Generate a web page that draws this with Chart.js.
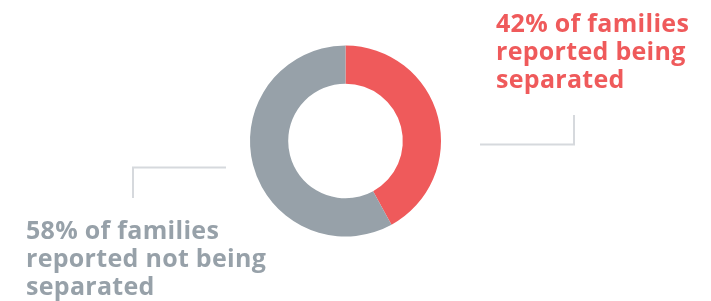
<!DOCTYPE html>
<html>
<head>
<meta charset="utf-8">
<script src="https://cdn.jsdelivr.net/npm/chart.js@4"></script>
<style>
  html, body { margin: 0; padding: 0; background: #fff; }
  #wrap { position: relative; width: 711px; height: 301px; }
</style>
</head>
<body>
<div id="wrap"><canvas id="sepChart" width="711" height="301"></canvas></div>
<script>
// data
const categories = ['Reported being separated', 'Reported not being separated'];
const shares = [42, 58];
const sliceColors = ['#ef5a5b', '#97a1a9'];
const calloutLines = [
  ['42% of families', 'reported being', 'separated'],
  ['58% of families', 'reported not being', 'separated']
];

// draws the two text callouts and their elbow leader lines
const calloutPlugin = {
  id: 'callouts',
  afterDraw(chart) {
    const ctx = chart.ctx;
    const arc = chart.getDatasetMeta(0).data[0];
    const cx = arc.x, cy = arc.y, r = arc.outerRadius;

    ctx.save();
    // leader lines
    ctx.strokeStyle = '#d6d9dd';
    ctx.lineWidth = 2;
    ctx.beginPath();
    ctx.moveTo(cx + r + 39, cy + 3.5);
    ctx.lineTo(cx + r + 133, cy + 3.5);
    ctx.lineTo(cx + r + 133, cy - 26);
    ctx.stroke();
    ctx.beginPath();
    ctx.moveTo(cx - r - 24, cy + 26.5);
    ctx.lineTo(cx - r - 117, cy + 26.5);
    ctx.lineTo(cx - r - 117, cy + 57);
    ctx.stroke();

    // text
    ctx.font = 'bold 25px "Open Sans"';
    ctx.letterSpacing = '0.3px';
    ctx.textBaseline = 'alphabetic';
    ctx.textAlign = 'left';
    ctx.fillStyle = sliceColors[0];
    calloutLines[0].forEach((t, i) => ctx.fillText(t, cx + r + 55, 32 + i * 28));
    ctx.fillStyle = sliceColors[1];
    calloutLines[1].forEach((t, i) => ctx.fillText(t, cx - r - 224, 239 + i * 28));
    ctx.restore();
  }
};

new Chart('sepChart', {
  type: 'doughnut',
  data: {
    labels: categories,
    datasets: [{
      data: shares,
      backgroundColor: sliceColors,
      borderWidth: 0
    }]
  },
  options: {
    responsive: false,
    animation: false,
    cutout: '60%',
    layout: { padding: { top: 45.5, bottom: 64.5, left: 0, right: 20 } },
    plugins: {
      legend: { display: false },
      tooltip: { enabled: false }
    }
  },
  plugins: [calloutPlugin]
});
</script>
</body>
</html>
